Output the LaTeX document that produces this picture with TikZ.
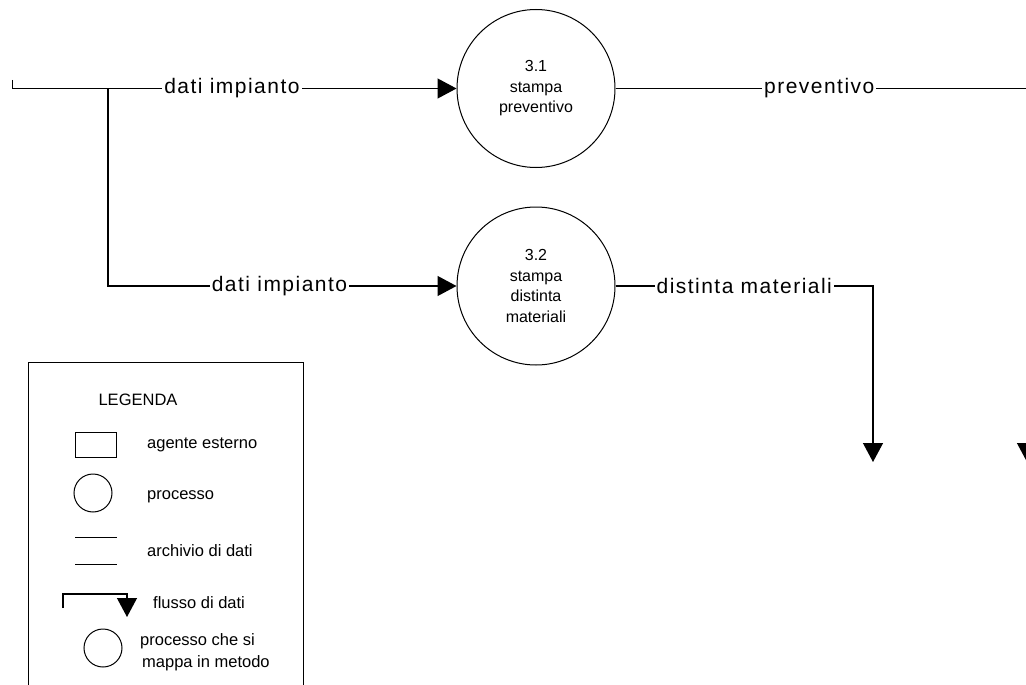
\documentclass[tikz,border=0pt]{standalone}
\usepackage{fontspec}
\setmainfont{Liberation Sans}
\newfontfamily\flowfont[LetterSpace=7]{Liberation Sans}
\usetikzlibrary{arrows.meta}

\tikzset{
  process/.style={circle, draw, line width=1pt, minimum size=158pt, inner sep=0pt,
    align=center, font=\fontsize{16}{20.5}\selectfont},
  flow/.style={line width=1.3pt, -{Triangle[length=19pt,width=20pt]}},
  plainflow/.style={line width=1.3pt},
  lbl/.style={fill=white, inner sep=2pt, font=\flowfont\fontsize{21}{24}\selectfont},
  legtext/.style={anchor=west, inner sep=0pt, align=left, font=\fontsize{16.5}{22}\selectfont},
  legsym/.style={draw, line width=1pt, inner sep=0pt},
}

\begin{document}
\begin{tikzpicture}[x=1pt, y=-1pt]
  \useasboundingbox (0,0) rectangle (1026,685);
  \clip (0,0) rectangle (1026,685);

  % processes
  \node[process] (p31) at (536,88.5) {3.1\\stampa\\preventivo};
  \node[process] (p32) at (536,286) {3.2\\stampa\\distinta\\materiali};

  % free ends of the flows
  \coordinate (in)  at (12.7,80);
  \coordinate (br)  at (108,88.5);
  \coordinate (out) at (1027,462);
  \coordinate (dm)  at (873,462);

  % incoming data
  \draw[flow] (in) |- node[lbl, pos=0.747] {dati impianto} (p31.west);
  \draw[flow] (br) |- node[lbl, pos=0.746] {dati impianto} (p32.west);

  % outgoing data
  \draw[flow] (p31.east) -| node[lbl, pos=0.2476] {preventivo} (out);
  \draw[flow] (p32.east) -| node[lbl, pos=0.25] {distinta materiali} (dm);

  % legend
  \node[draw, line width=1.2pt, minimum width=275pt, minimum height=360pt,
        anchor=north west, inner sep=0pt] (legend) at (28,362) {};
  \node[inner sep=0pt, font=\fontsize{16.5}{20}\selectfont] (legtitle) at (138,400) {LEGENDA};

  \node[legsym, minimum width=41pt, minimum height=25pt] (legrect) at (95.5,444.5) {};
  \node[legtext] (t1) at (147,445) {agente esterno};

  \node[legsym, circle, minimum size=38pt] (legcirc) at (93,493) {};
  \node[legtext] (t2) at (147,497) {processo};

  \draw[line width=1pt] (75,537) -- (117,537);
  \draw[line width=1pt] (75,564) -- (117,564);
  \node[legtext] (t3) at (147,551) {archivio di dati};

  \draw[flow, line width=1.2pt] (63,608) |- (127,594) -- (127,617);
  \node[legtext] (t4) at (153,603) {flusso di dati};

  \node[legsym, circle, minimum size=38pt] (legcirc2) at (103,648) {};
  \node[legtext] (t5) at (140,652) {processo che si\\\hspace*{2pt}mappa in metodo};
\end{tikzpicture}
\end{document}
